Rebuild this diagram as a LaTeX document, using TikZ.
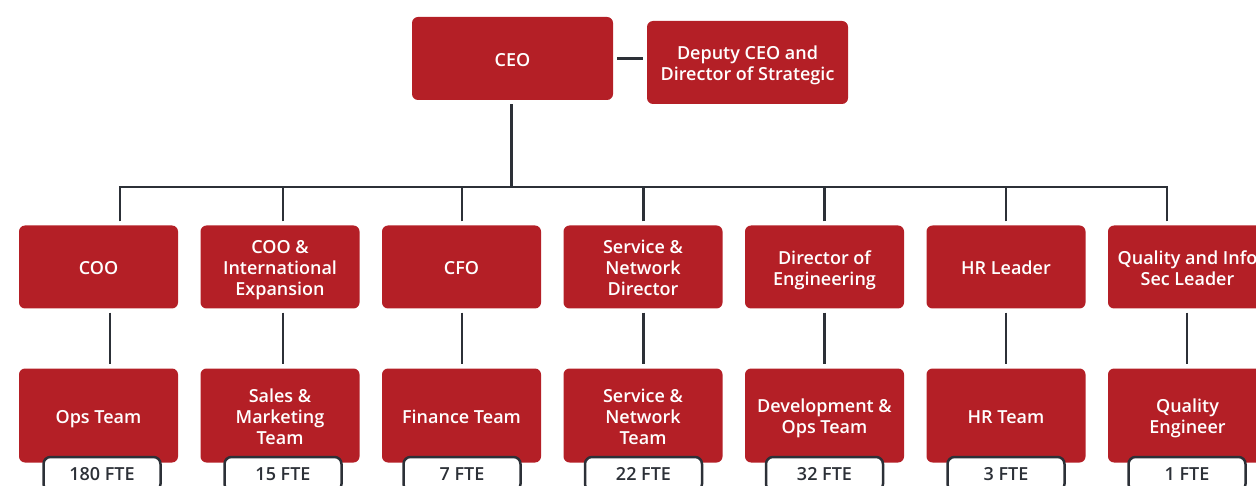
\documentclass[tikz,border=0pt]{standalone}
\usepackage{fontspec}
\setmainfont{Open Sans}
\IfFontExistsTF{Open Sans Semibold}
  {\newfontfamily\unitfont{Open Sans Semibold}\def\unitsize{18}}
  {\IfFontExistsTF{OpenSans-Semibold}
    {\newfontfamily\unitfont{OpenSans-Semibold}\def\unitsize{18}}
    {\IfFontExistsTF{OpenSans-SemiBold}
      {\newfontfamily\unitfont{OpenSans-SemiBold}\def\unitsize{18}}
      {\newfontfamily\unitfont{Open Sans Bold}\def\unitsize{17}}}}
\usetikzlibrary{calc,positioning}
\definecolor{orgred}{HTML}{B41F26}
\definecolor{linegray}{HTML}{2C3037}
\newcommand\unitlines[1]{\begin{tabular}{@{}c@{}}\rule{0pt}{21.5pt}#1\end{tabular}}
\tikzset{
  unit/.style={fill=orgred, text=white, rounded corners=6pt, minimum width=159pt,
    minimum height=83pt, inner sep=0pt,
    font=\unitfont\fontsize{\unitsize}{21}\selectfont},
  team/.style={unit, minimum height=94pt},
  fte/.style={draw=linegray, line width=2.5pt, fill=white, text=linegray,
    rounded corners=7pt, minimum width=117pt, minimum height=34pt, inner sep=1pt,
    font=\unitfont\fontsize{\unitsize}{21}\selectfont},
  link/.style={draw=linegray, line width=2.5pt}
}
\begin{document}
\begin{tikzpicture}[x=1pt, y=-1pt]
\useasboundingbox (0,0) rectangle (1256,486);
\coordinate (bus) at (0,187);
% top row
\node[unit, minimum width=201pt] (ceo) at (512.5,58.5) {\unitlines{CEO}};
\node[unit, minimum width=201pt] (deputy) at (747.5,62.5) {\unitlines{Deputy CEO and\\Director of Strategic}};
\draw[link] (ceo.east) ++(4,0) -- ($(deputy.west |- ceo.east)+(-4,0)$);
\draw[link] (ceo.south) ++(-1,4) coordinate (c0) -- (c0 |- bus);
% leaders, teams and head counts
\foreach \i/\lead/\team/\fte/\up/\dn/\bx in {
  1/COO/Ops Team/180/21.5/11.5/3.5,
  2/{COO \&\\International\\Expansion}/{Sales \&\\Marketing\\Team}/15/3/3/3,
  3/CFO/Finance Team/7/0.5/0.5/0.5,
  4/{Service \&\\Network\\Director}/{Service \&\\Network\\Team}/22/0.5/0.5/0.5,
  5/{Director of\\Engineering}/{Development \&\\Ops Team}/32/0/0/0,
  6/HR Leader/HR Team/3/0/0/0,
  7/{Quality and Info\\Sec Leader}/{Quality\\Engineer}/1/-20.5/-0.5/-0.5}
{
  \node[unit] (lead\i) at ({98.5+181.5*(\i-1)},267) {\unitlines{\lead}};
  \node[team] (team\i) at ({98.5+181.5*(\i-1)},415.5) {\unitlines{\team}};
  \node[fte] (fte\i) at ({98.5+181.5*(\i-1)+\bx},474) {\fte\ FTE};
  \draw[link] (lead\i.north) ++(\up,-4) coordinate (top\i) -- (top\i |- bus);
  \draw[link] (lead\i.south) ++(\dn,4) coordinate (mid\i) -- ($(mid\i |- team\i.north)+(0,-4)$);
}
\draw[link] ($(top1 |- bus)+(-1.25,0)$) -- ($(top7 |- bus)+(1.25,0)$);
\end{tikzpicture}
\end{document}
